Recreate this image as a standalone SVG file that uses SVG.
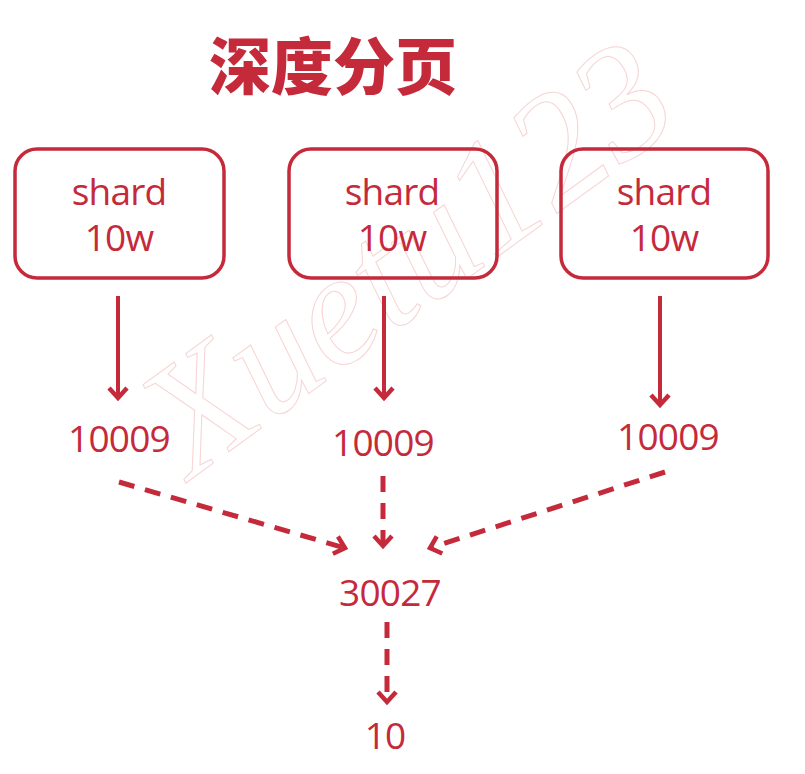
<svg xmlns="http://www.w3.org/2000/svg" width="805" height="774" viewBox="0 0 805 774">
<style>
.box{fill:none;stroke:#c52a3b;stroke-width:3.5}
.t{font-family:"Open Sans","Noto Sans","DejaVu Sans",sans-serif;font-size:37px;letter-spacing:-0.8px;fill:#c52a3b;text-anchor:middle}
.ln{stroke:#c52a3b;stroke-width:4;fill:none}
.dl{stroke:#c52a3b;stroke-width:5;fill:none;stroke-dasharray:16 11}
.wm{font-family:"Liberation Serif",serif;font-style:italic;font-size:160px;fill:none;stroke:#f8d4d4;stroke-width:1}
</style>
<defs>
<marker id="ah" viewBox="0 0 20 20" refX="10" refY="10" markerWidth="20" markerHeight="20" orient="auto" markerUnits="userSpaceOnUse" overflow="visible">
<path d="M0,1 L10,10 L0,19" fill="none" stroke="#c52a3b" stroke-width="4.5" stroke-linejoin="miter"/>
</marker>
</defs>
<rect width="805" height="774" fill="#fff"/>
<text class="wm" transform="translate(190,480) rotate(-36)">Xuetu123</text>
<text x="333" y="90" font-family="'Noto Sans CJK SC',sans-serif" font-weight="900" font-size="62" fill="#c52a3b" text-anchor="middle">深度分页</text>
<g id="shard1"><rect class="box" x="15" y="149" width="209" height="129" rx="22"/><text class="t" x="119" y="205">shard</text><text class="t" x="119" y="251">10w</text></g>
<g id="shard2"><rect class="box" x="289" y="149" width="208" height="129" rx="22"/><text class="t" x="392" y="205">shard</text><text class="t" x="392" y="251">10w</text></g>
<g id="shard3"><rect class="box" x="561" y="149" width="207" height="129" rx="22"/><text class="t" x="664" y="205">shard</text><text class="t" x="664" y="251">10w</text></g>
<g id="r1"><text class="t" x="119" y="452">10009</text></g>
<g id="r2"><text class="t" x="383" y="456">10009</text></g>
<g id="r3"><text class="t" x="668" y="450">10009</text></g>
<g id="sum"><text class="t" x="390" y="606">30027</text></g>
<g id="res"><text class="t" x="385" y="749">10</text></g>
<g id="connectors">
<path class="ln" d="M118,296 V398" marker-end="url(#ah)"/>
<path class="ln" d="M384,296 V398" marker-end="url(#ah)"/>
<path class="ln" d="M660,296 V405" marker-end="url(#ah)"/>
<path class="dl" d="M119,482 L345,548" marker-end="url(#ah)"/>
<path class="dl" d="M383,476 V546" marker-end="url(#ah)"/>
<path class="dl" d="M665,472 L430,548" marker-end="url(#ah)"/>
<path class="dl" d="M387,622 V702" marker-end="url(#ah)"/>
</g>
</svg>
